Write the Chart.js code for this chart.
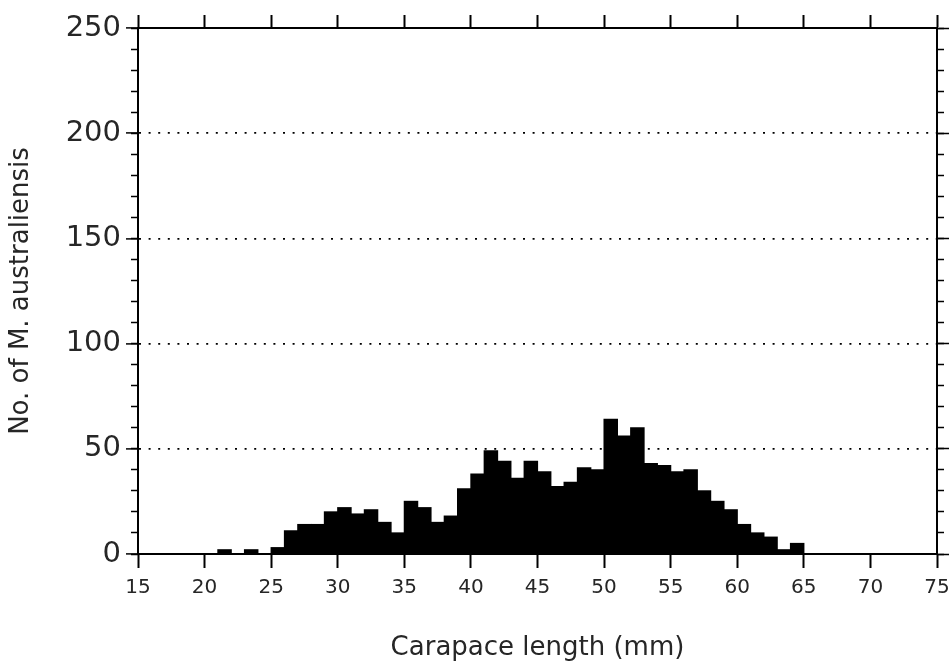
<!DOCTYPE html>
<html>
<head>
<meta charset="utf-8">
<title>Carapace length</title>
<script src="https://cdn.jsdelivr.net/npm/chart.js@4"></script>
<style>
  body { margin: 0; background: #fff; }
  canvas { display: block; }
</style>
</head>
<body>
<canvas id="lengthChart" width="950" height="661"></canvas>
<script>
// 1 mm size classes: lower bound of each class and the number of animals in it
const binStart = [21, 22, 23, 24, 25, 26, 27, 28, 29, 30,
                  31, 32, 33, 34, 35, 36, 37, 38, 39, 40,
                  41, 42, 43, 44, 45, 46, 47, 48, 49, 50,
                  51, 52, 53, 54, 55, 56, 57, 58, 59, 60,
                  61, 62, 63, 64];
const counts = [2, 0, 2, 0, 3, 11, 14, 14, 20, 22,
                19, 21, 15, 10, 25, 22, 15, 18, 31, 38,
                49, 44, 36, 44, 39, 32, 34, 41, 40, 64,
                56, 60, 43, 42, 39, 40, 30, 25, 21, 14,
                10, 8, 2, 5];

// axis ticks
const xTicks = [15, 20, 25, 30, 35, 40, 45, 50, 55, 60, 65, 70, 75];
const yTicks = [0, 50, 100, 150, 200, 250];
const yMinorTicks = [0, 10, 20, 30, 40, 50, 60, 70, 80, 90, 100, 110, 120, 130, 140, 150,
                     160, 170, 180, 190, 200, 210, 220, 230, 240, 250];

const font = 'DejaVu Sans';
const ink = '#262626';

// fixed axis sizes so the plot box sits where it does in the figure
function fixSize(size) {
    return scale => {
        if (scale.isHorizontal()) {
            scale.height = size;
            scale.paddingLeft = 0;
            scale.paddingRight = 0;
        } else {
            scale.width = size;
            scale.paddingTop = 0;
            scale.paddingBottom = 0;
        }
    };
}
function useTicks(list) {
    return scale => { scale.ticks = list.map(v => ({ value: v })); };
}

const ctx = document.getElementById('lengthChart').getContext('2d');

new Chart(ctx, {
    type: 'bar',
    data: {
        datasets: [{
            data: binStart.map((b, i) => ({ x: b + 0.5, y: counts[i] })),
            backgroundColor: '#000',
            borderWidth: 0,
            inflateAmount: 0.6,
            barPercentage: 1,
            categoryPercentage: 1
        }]
    },
    options: {
        responsive: false,
        animation: false,
        events: [],
        layout: { padding: { left: 0, top: 0, right: 13, bottom: 0 } },
        plugins: {
            legend: { display: false },
            tooltip: { enabled: false }
        },
        scales: {
            x: {
                type: 'linear', position: 'bottom', min: 15, max: 75, offset: false,
                afterBuildTicks: useTicks(xTicks),
                afterFit: fixSize(107),
                grid: { offset: false, drawOnChartArea: false, tickLength: 14, tickWidth: 2, tickColor: '#000' },
                border: { display: true, color: '#000', width: 2 },
                ticks: { color: ink, font: { family: font, size: 20 }, padding: 8, maxRotation: 0, autoSkip: false },
                title: {
                    display: true, text: 'Carapace length (mm)', color: ink,
                    font: { family: font, size: 26, lineHeight: 1 }, padding: { top: 0, bottom: 0 }
                }
            },
            xTop: {
                type: 'linear', position: 'top', min: 15, max: 75, offset: false,
                afterBuildTicks: useTicks(xTicks),
                afterFit: fixSize(28),
                grid: { offset: false, drawOnChartArea: false, tickLength: 13, tickWidth: 2, tickColor: '#000' },
                border: { display: true, color: '#000', width: 2 },
                ticks: { display: false }
            },
            y: {
                type: 'linear', position: 'left', min: 0, max: 250, weight: 1,
                afterBuildTicks: useTicks(yTicks),
                afterFit: fixSize(138),
                grid: {
                    color: c => (c.tick && (c.tick.value === 0 || c.tick.value === 250)) ? 'rgba(0,0,0,0)' : '#000',
                    lineWidth: 1.8, tickLength: 12, tickWidth: 1.5, tickColor: '#000'
                },
                border: { display: true, color: '#000', width: 2, dash: [2, 7.6] },
                ticks: { color: ink, font: { family: font, size: 29 }, padding: 5, autoSkip: false },
                title: {
                    display: true, text: 'No. of M. australiensis', color: ink,
                    font: { family: font, size: 26 }, padding: { top: 6, bottom: 0 }
                }
            },
            yMinor: {
                type: 'linear', position: 'left', min: 0, max: 250, weight: 0,
                afterBuildTicks: useTicks(yMinorTicks),
                afterFit: fixSize(0),
                grid: { drawOnChartArea: false, tickLength: 7, tickWidth: 1.5, tickColor: '#000' },
                border: { display: false },
                ticks: { display: false }
            },
            yRight: {
                type: 'linear', position: 'right', min: 0, max: 250, weight: 0,
                afterBuildTicks: useTicks(yTicks),
                afterFit: fixSize(0),
                grid: { drawOnChartArea: false, tickLength: 12, tickWidth: 1.5, tickColor: '#000' },
                border: { display: true, color: '#000', width: 2 },
                ticks: { display: false }
            },
            yRightMinor: {
                type: 'linear', position: 'right', min: 0, max: 250, weight: 1,
                afterBuildTicks: useTicks(yMinorTicks),
                afterFit: fixSize(0),
                grid: { drawOnChartArea: false, tickLength: 7, tickWidth: 1.5, tickColor: '#000' },
                border: { display: false },
                ticks: { display: false }
            }
        }
    }
});
</script>
</body>
</html>
